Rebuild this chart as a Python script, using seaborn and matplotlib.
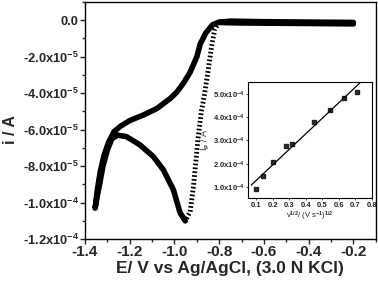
import numpy as np
import pandas as pd
import seaborn as sns
import matplotlib.pyplot as plt
from matplotlib.ticker import MultipleLocator, FuncFormatter

### CV data (E in V, i in 1e-5 A)
# forward (cathodic) scan, flat part
E_flat_fwd = [-0.20, -0.30, -0.40, -0.50, -0.60, -0.70, -0.78, -0.80]
i_flat_fwd = [-0.20, -0.19, -0.18, -0.17, -0.16, -0.15, -0.13, -0.12]
# steep drop into the reduction peak (sparse points in the original)
E_drop = [-0.80, -0.82, -0.835, -0.85, -0.865, -0.88, -0.895, -0.905, -0.915, -0.93, -0.952]
i_drop = [-0.12, -0.50, -1.50, -2.80, -4.00, -5.00, -6.50, -7.80, -9.10, -10.50, -11.00]
# after the peak down to the switching potential
E_tail = [-0.952, -0.975, -1.005, -1.05, -1.095, -1.155, -1.215, -1.255, -1.28, -1.30, -1.32, -1.335, -1.348, -1.355]
i_tail = [-11.00, -10.56, -9.29, -8.20, -7.47, -6.83, -6.38, -6.30, -6.50, -7.10, -8.00, -9.00, -9.80, -10.30]
# reverse (anodic) scan
E_rev = [-1.345, -1.332, -1.315, -1.295, -1.27, -1.24, -1.20, -1.14, -1.08, -1.02, -0.99,
         -0.96, -0.93, -0.90, -0.885, -0.86, -0.83, -0.80, -0.75, -0.60, -0.40, -0.20]
i_rev = [-9.30, -8.30, -7.40, -6.70, -6.10, -5.80, -5.50, -5.20, -4.85, -4.30, -3.95,
         -3.45, -2.85, -2.00, -1.30, -0.70, -0.25, -0.10, -0.05, -0.08, -0.10, -0.12]

### inset: peak current vs sqrt(scan rate)
sqrt_v = [0.100, 0.141, 0.200, 0.283, 0.316, 0.447, 0.548, 0.632, 0.707]
ip = [0.94, 1.47, 2.06, 2.76, 2.85, 3.79, 4.30, 4.83, 5.07]  # x 1e-4 A

loop = pd.DataFrame({'E': E_tail + E_rev, 'i': np.array(i_tail + i_rev) * 1e-5})
flat = pd.DataFrame({'E': E_flat_fwd, 'i': np.array(i_flat_fwd) * 1e-5})
drop = pd.DataFrame({'E': E_drop, 'i': np.array(i_drop) * 1e-5})
inset_df = pd.DataFrame({'x': sqrt_v, 'y': np.array(ip) * 1e-4})

sns.set_theme(style="ticks")
plt.rcParams['font.family'] = ['Liberation Sans', 'DejaVu Sans']
plt.rcParams['font.weight'] = 'bold'
plt.rcParams['mathtext.fontset'] = 'custom'
plt.rcParams['mathtext.rm'] = 'Liberation Sans:bold'
plt.rcParams['mathtext.it'] = 'Liberation Sans:bold'
plt.rcParams['mathtext.bf'] = 'Liberation Sans:bold'


def sci_fmt(val, pos=None):
    if abs(val) < 1e-12:
        return '0.0'
    exp = int(np.floor(np.log10(abs(val))))
    mant = val / 10 ** exp
    return '%.1fx10$^{%d}$' % (mant, exp)


fig = plt.figure(figsize=(3.78, 2.85), dpi=100)
ax = fig.add_axes([0.225, 0.161, 0.769, 0.832])

line_kw = dict(sort=False, estimator=None, color='black', ax=ax, legend=False)
sns.lineplot(data=loop, x='E', y='i', lw=4, solid_joinstyle='round', solid_capstyle='round', **line_kw)
sns.lineplot(data=flat, x='E', y='i', lw=4, solid_capstyle='round', **line_kw)
sns.lineplot(data=drop, x='E', y='i', lw=3.5, ls=(0, (0.35, 0.45)), **line_kw)

ax.set_xlim(-1.4, -0.1)
ax.set_ylim(-1.2e-4, 1e-5)
ax.xaxis.set_major_locator(MultipleLocator(0.2))
ax.xaxis.set_minor_locator(MultipleLocator(0.1))
ax.yaxis.set_major_locator(MultipleLocator(2e-5))
ax.yaxis.set_minor_locator(MultipleLocator(1e-5))
ax.xaxis.set_major_formatter(FuncFormatter(lambda v, p: '%.1f' % v))
ax.yaxis.set_major_formatter(FuncFormatter(sci_fmt))
ax.tick_params(which='both', direction='out', width=1, pad=1)
ax.tick_params(axis='x', labelsize=11)
ax.tick_params(axis='y', labelsize=9.3)
ax.tick_params(which='major', length=3.5)
ax.tick_params(which='minor', length=2)
for s in ax.spines.values():
    s.set_linewidth(1)
    s.set_color('black')
ax.set_xlabel('E/ V vs Ag/AgCl, (3.0 N KCl)', fontsize=12.5, fontweight='bold', labelpad=1)
ax.set_ylabel('i / A', fontsize=11.5, fontweight='bold')
ax.yaxis.set_label_coords(-0.232, 0.46)

# inset
axin = fig.add_axes([0.656, 0.305, 0.328, 0.407])
sns.regplot(data=inset_df, x='x', y='y', ci=None, ax=axin, truncate=False,
            marker='s', scatter_kws={'s': 6, 'color': 'black'},
            line_kws={'color': 'black', 'lw': 0.9})
axin.set_xlim(0.05, 0.8)
axin.set_ylim(0.53e-4, 5.5e-4)
axin.xaxis.set_major_locator(MultipleLocator(0.1))
axin.yaxis.set_major_locator(MultipleLocator(1e-4))
axin.xaxis.set_major_formatter(FuncFormatter(lambda v, p: '%.1f' % v))
axin.yaxis.set_major_formatter(FuncFormatter(sci_fmt))
axin.tick_params(which='both', direction='out', labelsize=5.5, width=0.6, length=1.5, pad=1)
for s in axin.spines.values():
    s.set_linewidth(0.8)
    s.set_color('black')
axin.set_xlabel('v$^{1/2}$/ (V s$^{-1}$)$^{1/2}$', fontsize=5.5, labelpad=1)
axin.set_ylabel('I$_p$ / A', fontsize=6.5, labelpad=1)

fig.savefig('out.png', dpi=100)
